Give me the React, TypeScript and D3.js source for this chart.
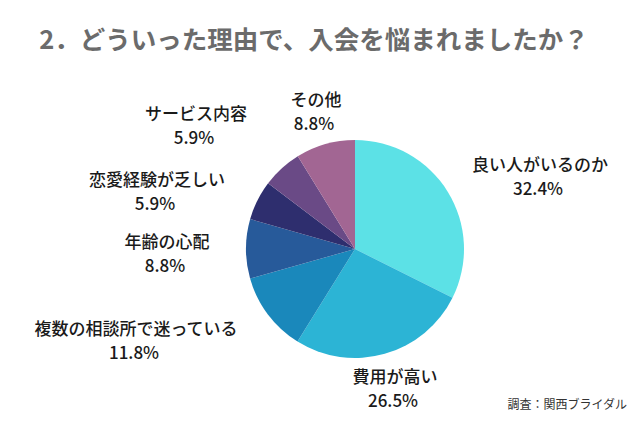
import React from "react";
import * as d3 from "d3";

const categories = [
  "良い人がいるのか",
  "費用が高い",
  "複数の相談所で迷っている",
  "年齢の心配",
  "恋愛経験が乏しい",
  "サービス内容",
  "その他",
];
const values = [32.4, 26.5, 11.8, 8.8, 5.9, 5.9, 8.8];
const colors = ["#5CE1E6", "#2CB4D5", "#1A88BB", "#275A9A", "#2E2E6E", "#6A4A86", "#A26693"];

// label anchor positions (layout only)
const labelPos: [number, number][] = [
  [540, 163],
  [395, 375],
  [136, 327],
  [167, 240],
  [157, 178],
  [196, 112],
  [316, 98],
];

const W = 640;
const H = 426;
const cx = 355;
const cy = 249;
const R = 109;

export default function App() {
  const pie = d3
    .pie<number>()
    .sort(null)
    .startAngle(0)
    .endAngle(Math.PI * 2)(values);
  const arc = d3.arc<d3.PieArcDatum<number>>().innerRadius(0).outerRadius(R);
  const font = "'Noto Sans CJK JP', 'Noto Sans', sans-serif";
  return (
    <svg
      width={W}
      height={H}
      style={{ position: "absolute", left: 0, top: 0, background: "#fff" }}
      fontFamily={font}
    >
      <rect width={W} height={H} fill="#fff" />
      <text
        x={314}
        y={49}
        textAnchor="middle"
        fontSize={25.5}
        fontWeight={700}
        fill="#6b6b6b"
      >
        2．どういった理由で、入会を悩まれましたか？
      </text>
      <g transform={`translate(${cx},${cy})`}>
        {pie.map((d, i) => (
          <path key={i} d={arc(d) || ""} fill={colors[i]} />
        ))}
      </g>
      {categories.map((c, i) => (
        <g key={c}>
          <text
            x={labelPos[i][0]}
            y={labelPos[i][1]}
            textAnchor="middle"
            dominantBaseline="central"
            fontSize={17}
            fontWeight={500}
            fill="#1a1a1a"
          >
            {c}
          </text>
          <text
            x={labelPos[i][0] - 2}
            y={labelPos[i][1] + 24}
            textAnchor="middle"
            dominantBaseline="central"
            fontSize={17}
            fontWeight={500}
            fill="#1a1a1a"
          >
            {values[i].toFixed(1)}%
          </text>
        </g>
      ))}
      <text x={627} y={409} textAnchor="end" fontSize={12} fill="#333">
        調査：関西ブライダル
      </text>
    </svg>
  );
}
